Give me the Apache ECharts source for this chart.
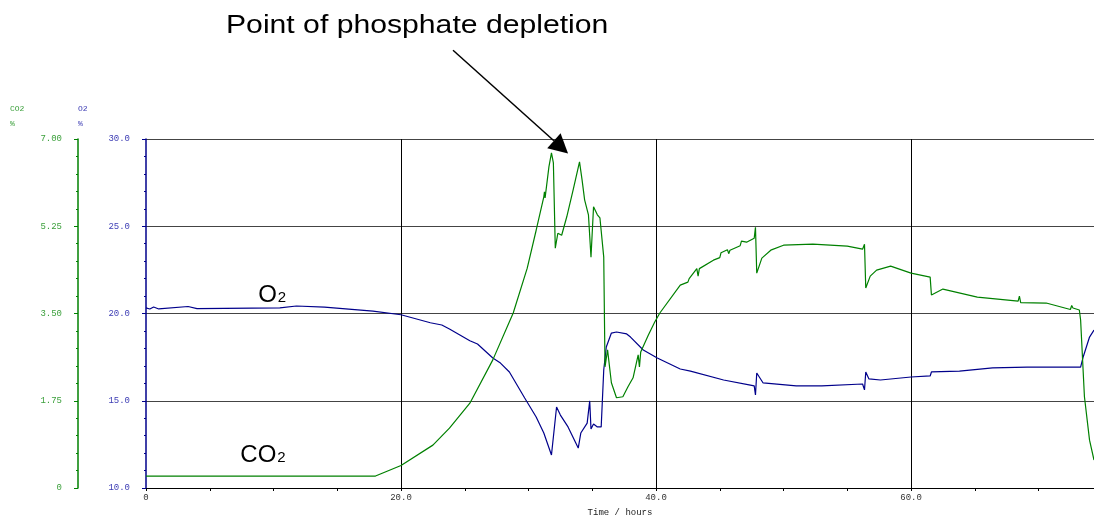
<!DOCTYPE html>
<html>
<head>
<meta charset="utf-8">
<script src="https://cdn.jsdelivr.net/npm/echarts@6/dist/echarts.min.js"></script>
<style>
  html, body { margin: 0; padding: 0; background: #fff; }
  #main { width: 1094px; height: 516px; }
</style>
</head>
<body>
<div id="main"></div>
<script>
// time axis (hours)
const xTicks = [0, 20, 40, 60];

// O2 (%) trace
const o2Time = [0, 0.3, 0.6, 1.0, 3.3, 4.0, 10.5, 11.8, 14.0, 17.8, 20.0, 22.3, 23.2, 23.8, 25.4, 26.0,
  27.2, 27.8, 28.5, 29.7, 30.6, 31.2, 31.8, 32.2, 32.5, 33.1, 33.9, 34.1, 34.6, 34.8, 34.9, 35.1,
  35.4, 35.7, 35.9, 36.1, 36.5, 36.9, 37.7, 38.0, 39.0, 40.1, 41.9, 42.7, 45.3, 47.4, 47.7, 47.8,
  47.9, 48.4, 51.0, 53.0, 56.2, 56.35, 56.45, 56.7, 57.6, 60.0, 61.5, 61.6, 63.8, 66.4, 69.1, 73.3,
  73.5, 74.0, 74.35];
const o2Vals = [20.32, 20.26, 20.37, 20.26, 20.4, 20.28, 20.32, 20.43, 20.37, 20.14, 19.93, 19.47, 19.34, 19.11, 18.44, 18.25,
  17.45, 17.16, 16.65, 15.16, 14.07, 13.15, 11.89, 14.64, 14.18, 13.5, 12.29, 13.15, 13.72, 14.99, 13.38, 13.67,
  13.5, 13.5, 16.76, 18.08, 18.88, 18.94, 18.83, 18.65, 17.91, 17.45, 16.82, 16.7, 16.19, 15.9, 15.85, 15.33,
  16.59, 16.02, 15.85, 15.85, 15.96, 15.62, 16.65, 16.25, 16.19, 16.36, 16.42, 16.65, 16.7, 16.88, 16.93, 16.93,
  17.51, 18.65, 19.05];

// CO2 (%) trace
const co2Time = [0, 18.0, 20.0, 22.5, 23.8, 25.4, 27.2, 28.8, 29.9, 30.6, 31.2, 31.25, 31.3, 31.6, 31.8, 31.95,
  32.1, 32.3, 32.6, 33.0, 33.5, 34.0, 34.2, 34.4, 34.7, 34.9, 35.1, 35.4, 35.6, 35.9, 36.0, 36.2,
  36.5, 36.9, 37.4, 37.8, 38.2, 38.6, 38.7, 38.8, 39.4, 39.9, 40.3, 41.9, 42.5, 42.6, 43.2, 43.3,
  43.4, 44.5, 45.0, 45.1, 45.6, 45.7, 45.8, 46.6, 46.7, 47.1, 47.7, 47.8, 47.9, 48.3, 49.0, 50.0,
  52.3, 55.0, 56.2, 56.35, 56.45, 56.8, 57.3, 58.4, 60.0, 61.5, 61.6, 62.5, 65.2, 68.4, 68.5, 68.6,
  70.6, 70.7, 72.5, 72.6, 72.7, 73.2, 73.3, 73.6, 74.0, 74.35];
const co2Vals = [0.24, 0.24, 0.45, 0.86, 1.2, 1.7, 2.57, 3.51, 4.41, 5.17, 5.84, 5.94, 5.82, 6.44, 6.72, 6.52,
  4.81, 5.11, 5.07, 5.44, 5.98, 6.54, 6.18, 5.78, 5.48, 4.63, 5.64, 5.48, 5.42, 4.63, 2.43, 2.77,
  2.11, 1.81, 1.83, 2.03, 2.21, 2.67, 2.43, 2.73, 3.07, 3.33, 3.51, 4.07, 4.13, 4.2, 4.4, 4.25,
  4.4, 4.57, 4.62, 4.72, 4.78, 4.7, 4.77, 4.86, 4.95, 4.93, 5.01, 5.23, 4.31, 4.61, 4.77, 4.87,
  4.89, 4.85, 4.79, 4.89, 4.01, 4.25, 4.37, 4.45, 4.31, 4.23, 3.87, 3.99, 3.83, 3.75, 3.85, 3.72,
  3.71, 3.67, 3.58, 3.66, 3.61, 3.57, 3.37, 1.83, 0.96, 0.56];

// annotation arrow, data coords on the CO2 axis
const arrowTail = [24.08, 8.78];
const arrowTip = [33.1, 6.71];

const green = "#008000";
const navy = "#00008b";
const mono = "Liberation Mono";

function zip(a, b) {
  return a.map(function (v, i) { return [v, b[i]]; });
}

let myChart = echarts.init(document.getElementById("main"));
let options = {
  animation: false,
  grid: { left: 146, right: 0, top: 139, bottom: 28, outerBoundsMode: "none", containLabel: false },
  xAxis: [
    {
      type: "value",
      min: 0,
      max: 74.35,
      interval: 5,
      name: "Time / hours",
      nameLocation: "middle",
      nameGap: 20,
      nameTextStyle: { fontFamily: mono, fontSize: 9, color: "#222" },
      axisLine: { onZero: false, lineStyle: { color: "#000", width: 1 } },
      axisTick: { length: 3, lineStyle: { color: "#000" } },
      axisLabel: {
        margin: 5,
        fontFamily: mono,
        fontSize: 9,
        color: "#333",
        showMaxLabel: false,
        formatter: function (v) {
          if (xTicks.indexOf(v) < 0) return "";
          return v === 0 ? "0" : v.toFixed(1);
        },
      },
      splitLine: { show: false },
    },
    {
      // only for the vertical grid lines every 20 h
      type: "value",
      min: 0,
      max: 74.35,
      interval: 20,
      position: "bottom",
      axisLine: { show: false, onZero: false },
      axisTick: { show: false },
      axisLabel: { show: false },
      splitLine: { show: true, showMinLine: false, lineStyle: { color: "#000", width: 1 } },
    },
  ],
  yAxis: [
    {
      type: "value",
      min: 10,
      max: 30,
      interval: 5,
      position: "left",
      axisLine: { show: true, onZero: false, lineStyle: { color: navy, width: 1.5 } },
      axisTick: { show: true, length: 4, lineStyle: { color: navy } },
      minorTick: { show: true, splitNumber: 5, length: 2, lineStyle: { color: navy } },
      axisLabel: {
        margin: 16,
        fontFamily: mono,
        fontSize: 9,
        color: "#3c3cb4",
        formatter: function (v) { return v.toFixed(1); },
      },
      splitLine: { show: true, showMinLine: false, lineStyle: { color: "#444", width: 1 } },
    },
    {
      type: "value",
      min: 0,
      max: 7,
      interval: 1.75,
      position: "left",
      offset: 68,
      axisLine: { show: true, onZero: false, lineStyle: { color: green, width: 1.5 } },
      axisTick: { show: true, length: 4, lineStyle: { color: green } },
      minorTick: { show: true, splitNumber: 5, length: 2, lineStyle: { color: green } },
      axisLabel: {
        margin: 16,
        fontFamily: mono,
        fontSize: 9,
        color: "#3ca03c",
        formatter: function (v) { return v === 0 ? "0" : v.toFixed(2); },
      },
      splitLine: { show: false },
    },
  ],
  series: [
    {
      name: "O2",
      type: "line",
      yAxisIndex: 0,
      showSymbol: false,
      symbol: "none",
      lineStyle: { color: navy, width: 1.2 },
      data: zip(o2Time, o2Vals),
    },
    {
      name: "CO2",
      type: "line",
      yAxisIndex: 1,
      showSymbol: false,
      symbol: "none",
      lineStyle: { color: green, width: 1.2 },
      data: zip(co2Time, co2Vals),
    },
  ],
};
myChart.setOption(options);

// annotations placed from data coordinates
let tail = myChart.convertToPixel({ xAxisIndex: 0, yAxisIndex: 1 }, arrowTail);
let tip = myChart.convertToPixel({ xAxisIndex: 0, yAxisIndex: 1 }, arrowTip);
let ang = Math.atan2(tip[1] - tail[1], tip[0] - tail[0]);
let headLen = 19, headHalf = 10;
let bx = tip[0] - headLen * Math.cos(ang), by = tip[1] - headLen * Math.sin(ang);
let nx = -Math.sin(ang), ny = Math.cos(ang);

let o2Lbl = myChart.convertToPixel({ xAxisIndex: 0, yAxisIndex: 0 }, [8.8, 20.35]);
let co2Lbl = myChart.convertToPixel({ xAxisIndex: 0, yAxisIndex: 1 }, [7.4, 0.42]);

const rich = {
  b: { fontFamily: "Liberation Sans", fontSize: 24, color: "#000", verticalAlign: "bottom" },
  s: { fontFamily: "Liberation Sans", fontSize: 15, color: "#000", verticalAlign: "bottom", padding: [0, 0, 2, 1] },
};

myChart.setOption({
  graphic: [
    {
      type: "text", x: 226, y: 13, scaleX: 1.16,
      style: { text: "Point of phosphate depletion", font: '26px "Liberation Sans"', fill: "#000" },
    },
    {
      type: "line",
      shape: { x1: tail[0], y1: tail[1], x2: bx, y2: by },
      style: { stroke: "#000", lineWidth: 1.5 },
    },
    {
      type: "polygon",
      shape: { points: [tip, [bx + nx * headHalf, by + ny * headHalf], [bx - nx * headHalf, by - ny * headHalf]] },
      style: { fill: "#000" },
    },
    {
      type: "text", x: o2Lbl[0], y: o2Lbl[1],
      style: { text: "{b|O}{s|2}", rich: rich, verticalAlign: "bottom" },
    },
    {
      type: "text", x: co2Lbl[0], y: co2Lbl[1],
      style: { text: "{b|CO}{s|2}", rich: rich, verticalAlign: "bottom" },
    },
    {
      type: "text", x: 10, y: 101,
      style: { text: "CO2\n%", font: "8px " + mono, fill: "#3ca03c", lineHeight: 15 },
    },
    {
      type: "text", x: 78, y: 101,
      style: { text: "O2\n%", font: "8px " + mono, fill: "#3c3cb4", lineHeight: 15 },
    },
  ],
});

window.addEventListener("resize", function () {
  myChart.resize();
});
</script>
</body>
</html>
